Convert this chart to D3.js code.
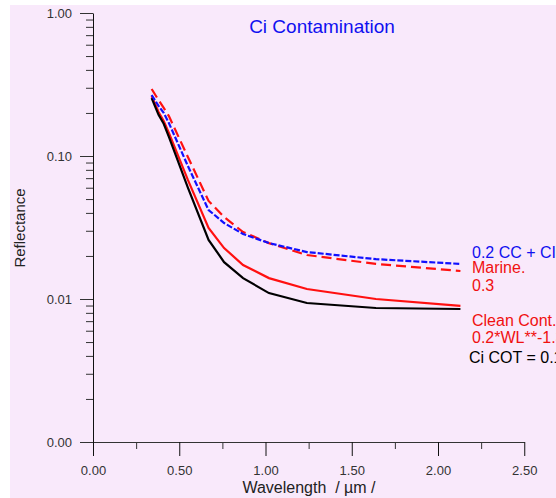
<!DOCTYPE html>
<html><head><meta charset="utf-8">
<script src="https://cdn.jsdelivr.net/npm/d3@7"></script>
<style>
html,body{margin:0;padding:0;background:#fff;overflow:hidden}
svg{display:block;font-family:"Liberation Sans",Arial,sans-serif}
</style></head>
<body><svg id="c" width="556" height="498"></svg>
<script>
const wavelengths = [0.34, 0.38, 0.41, 0.44, 0.55, 0.67, 0.76, 0.87, 1.02, 1.24, 1.64, 2.13];
const ciCot = [0.254, 0.194, 0.168, 0.136, 0.060, 0.0259, 0.0181, 0.0140, 0.0110, 0.00938, 0.00865, 0.00851];
const cleanCont = [0.263, 0.203, 0.176, 0.145, 0.068, 0.0314, 0.0227, 0.0173, 0.0140, 0.01175, 0.0100, 0.00894];
const marine = [0.294, 0.246, 0.217, 0.190, 0.0985, 0.0485, 0.0374, 0.0294, 0.0246, 0.0203, 0.0176, 0.0157];
const ccCi = [0.267, 0.224, 0.200, 0.170, 0.0851, 0.0419, 0.0340, 0.0285, 0.0246, 0.0213, 0.0190, 0.0176];
const xTicks = [0, 0.5, 1.0, 1.5, 2.0, 2.5];
const xTickLabels = ["0.00", "0.50", "1.00", "1.50", "2.00", "2.50"];
const xMinorTicks = [0.25, 0.75, 1.25, 1.75, 2.25];
const yTicks = [1, 0.1, 0.01, 0.001];
const yTickLabels = ["1.00", "0.10", "0.01", "0.00"];
const labelLines = ["0.2 CC + CI", "Marine.", "0.3", "Clean Cont.", "0.2*WL**-1.3", "Ci COT = 0.1"];
const labelColors = ["#1010f0", "#f01010", "#f01010", "#f01010", "#f01010", "#000"];
const titleText = "Ci Contamination";
const xTitle = "Wavelength  / \u00b5m /";
const yTitle = "Reflectance";

const svg = d3.select("#c");
svg.append("rect").attr("x", 10).attr("y", 5).attr("width", 546).attr("height", 493).attr("fill", "#f9e9fb");

const x = d3.scaleLinear().domain([0, 2.5]).range([93, 524.25]);
const y = d3.scaleLog().domain([0.001, 1]).range([442, 13]);

const yMinor = [];
[0.001, 0.01, 0.1].forEach(d => { for (let k = 2; k <= 9; k++) yMinor.push(d * k); });

// minor ticks
svg.append("g").attr("transform", "translate(93,0)")
  .call(d3.axisLeft(y).tickValues(yMinor).tickSize(7).tickFormat("").tickSizeOuter(0))
  .call(g => g.select(".domain").remove())
  .call(g => g.selectAll("line").attr("stroke", "#333"));
svg.append("g").attr("transform", "translate(0,442)")
  .call(d3.axisBottom(x).tickValues(xMinorTicks).tickSize(7).tickFormat("").tickSizeOuter(0))
  .call(g => g.select(".domain").remove())
  .call(g => g.selectAll("line").attr("stroke", "#333"));

// major
const ya = svg.append("g").attr("transform", "translate(93,0)")
  .call(d3.axisLeft(y).tickValues(yTicks).tickSize(13).tickPadding(8).tickSizeOuter(0)
    .tickFormat((d, i) => yTickLabels[i]));
ya.select(".domain").attr("stroke", "#111");
ya.selectAll("line").attr("stroke", "#333");
ya.selectAll("text").attr("font-size", 13).attr("fill", "#333").attr("font-family", "Liberation Sans, Arial, sans-serif");

const xa = svg.append("g").attr("transform", "translate(0,442)")
  .call(d3.axisBottom(x).tickValues(xTicks).tickSize(14).tickPadding(10).tickSizeOuter(0)
    .tickFormat((d, i) => xTickLabels[i]));
xa.select(".domain").attr("stroke", "#333");
xa.selectAll("line").attr("stroke", "#111");
xa.selectAll("text").attr("font-size", 13).attr("fill", "#333").attr("font-family", "Liberation Sans, Arial, sans-serif");

const line = d3.line().x((d, i) => x(wavelengths[i])).y(d => y(d));
const series = [
  {v: marine, c: "#ff1010", dash: "10,5"},
  {v: cleanCont, c: "#ff1010", dash: null},
  {v: ciCot, c: "#000", dash: null},
  {v: ccCi, c: "#1010ff", dash: "6,2"}
];
series.forEach(s => {
  svg.append("path").datum(s.v).attr("d", line).attr("fill", "none")
    .attr("stroke", s.c).attr("stroke-width", 2.2)
    .attr("stroke-dasharray", s.dash);
});

svg.append("text").attr("x", 322).attr("y", 33).attr("text-anchor", "middle")
  .attr("font-size", 19).attr("fill", "#1010f0").text(titleText);
svg.append("text").attr("x", 309).attr("y", 493).attr("text-anchor", "middle")
  .attr("font-size", 16).attr("fill", "#222").style("white-space", "pre").text(xTitle);
svg.append("text").attr("transform", "translate(25,228) rotate(-90)").attr("text-anchor", "middle")
  .attr("font-size", 15).attr("fill", "#222").text(yTitle);

const labelY = [258, 273, 291, 326, 343, 363];
labelLines.forEach((t, i) => {
  svg.append("text").attr("x", i === 5 ? 469 : 472).attr("y", labelY[i])
    .attr("font-size", 16).attr("fill", labelColors[i]).text(t);
});
</script></body></html>
